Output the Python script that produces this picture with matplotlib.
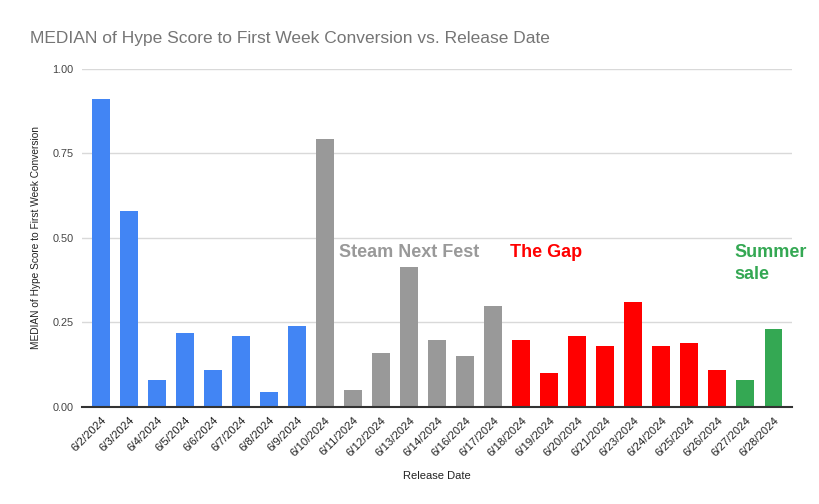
import matplotlib
matplotlib.use("Agg")
import matplotlib.pyplot as plt

dates = ["6/2/2024", "6/3/2024", "6/4/2024", "6/5/2024", "6/6/2024", "6/7/2024",
         "6/8/2024", "6/9/2024", "6/10/2024", "6/11/2024", "6/12/2024", "6/13/2024",
         "6/14/2024", "6/16/2024", "6/17/2024", "6/18/2024", "6/19/2024", "6/20/2024",
         "6/21/2024", "6/23/2024", "6/24/2024", "6/25/2024", "6/26/2024", "6/27/2024",
         "6/28/2024"]
values = [0.911, 0.580, 0.078, 0.218, 0.110, 0.209, 0.044, 0.240, 0.793, 0.049,
          0.159, 0.414, 0.198, 0.149, 0.299, 0.198, 0.100, 0.208, 0.180, 0.310,
          0.180, 0.188, 0.110, 0.078, 0.229]
groups = ["normal"] * 8 + ["fest"] * 7 + ["gap"] * 8 + ["sale"] * 2
group_colors = {"normal": "#4285F4", "fest": "#999999", "gap": "#FF0000", "sale": "#34A853"}
yticks = [0.0, 0.25, 0.5, 0.75, 1.0]

plt.rcParams['font.family'] = ['Liberation Sans', 'DejaVu Sans']

fig = plt.figure(figsize=(8.19, 5.04), dpi=100)
ax = fig.add_axes([0.100, 0.193, 0.867, 0.671])

x = list(range(len(dates)))
ax.bar(x, values, width=0.64, color=[group_colors[g] for g in groups], zorder=3)

ax.set_xlim(-0.68, len(dates) - 1 + 0.66)
ax.set_ylim(0, 1.0)
ax.set_yticks(yticks)
ax.set_yticklabels([f"{t:.2f}" for t in yticks], fontsize=7.8, color="#444444")
ax.set_xticks(x)
ax.set_xticklabels(dates, rotation=45, ha="right", rotation_mode="anchor",
                   fontsize=8.2, color="#222222")
ax.tick_params(axis="both", length=0)
ax.tick_params(axis="x", pad=6)
ax.tick_params(axis="y", pad=6)
ax.grid(axis="y", color="#d9d9d9", linewidth=1, zorder=0)
for s in ["top", "right", "left"]:
    ax.spines[s].set_visible(False)
ax.spines["bottom"].set_color("#333333")
ax.spines["bottom"].set_linewidth(1.5)
ax.spines["bottom"].set_zorder(4)

ax.set_ylabel("MEDIAN of Hype Score to First Week Conversion", fontsize=7.3, color="#222222", labelpad=8)
ax.set_xlabel("Release Date", fontsize=8, color="#222222", labelpad=9)

fig.text(30 / 819, 1 - 38 / 504, "MEDIAN of Hype Score to First Week Conversion vs. Release Date",
         fontsize=12.5, color="#757575", va="center", ha="left")

ax.text(8.50, 0.455, "Steam Next Fest", fontsize=13, fontweight="bold", color="#999999", va="center", ha="left")
ax.text(14.6, 0.455, "The Gap", fontsize=13, fontweight="bold", color="#FF0000", va="center", ha="left")
ax.text(22.6, 0.455, "Summer", fontsize=13, fontweight="bold", color="#34A853", va="center", ha="left")
ax.text(22.6, 0.390, "sale", fontsize=13, fontweight="bold", color="#34A853", va="center", ha="left")

fig.savefig("out.png", dpi=100)
